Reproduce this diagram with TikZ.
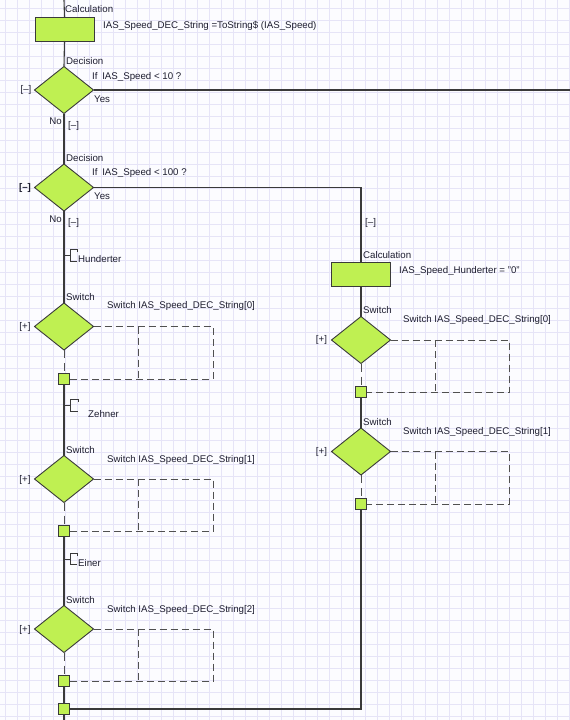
\documentclass[tikz,border=0pt]{standalone}
\usepackage{fontspec}
\setmainfont{Liberation Sans}
\usetikzlibrary{shapes.geometric}
\definecolor{lime}{HTML}{BFF052}
\definecolor{ln}{HTML}{3A3A3A}
\definecolor{dl}{HTML}{505050}
\definecolor{gridc}{HTML}{E6E4F7}
\definecolor{txt}{HTML}{1E1E30}
\definecolor{bg}{HTML}{FCFCFF}
\tikzset{
  flow/.style={draw=ln, line width=1.1pt},
  dsh/.style={draw=dl, line width=1pt, dash pattern=on 7pt off 4pt},
  calcbox/.style={rectangle, draw=ln, fill=lime, line width=0.9pt, minimum width=59pt, minimum height=24pt, inner sep=0pt, outer sep=0pt},
  decbox/.style={diamond, draw=ln, fill=lime, line width=0.9pt, minimum width=59pt, minimum height=47pt, inner sep=0pt, outer sep=0pt},
  merge/.style={rectangle, draw=ln, fill=lime, line width=0.9pt, minimum width=11pt, minimum height=11pt, inner sep=0pt, outer sep=0pt},
  lbl/.style={anchor=west, inner sep=0pt, text=txt, text height=7pt, text depth=2pt, font=\fontsize{9.7}{11}\selectfont},
  lble/.style={lbl, anchor=east},
  lblc/.style={lbl, anchor=center},
  cmt/.style={draw=ln, line width=0.9pt},
}
\begin{document}
\begin{tikzpicture}[x=1pt, y=-1pt]
\useasboundingbox (0,0) rectangle (570,720);
\fill[bg] (0,0) rectangle (570,720);
\foreach \x in {5,17,...,569} \draw[gridc, line width=1pt] (\x,0) -- (\x,720);
\foreach \k in {0,...,59} \draw[gridc, line width=1pt] (0,8.7+12*\k) -- (570,8.7+12*\k);

% coordinates
\coordinate (top) at (64,0);
\coordinate (bot) at (64,720);
\coordinate (rightend) at (570,90);
\coordinate (corner) at (361,187.5);
\coordinate (rcorner) at (361,709);

% shapes
\node[calcbox] (c1) at (64.5,29) {};
\node[decbox] (d1) at (64,90) {};
\node[decbox] (d2) at (64,187.5) {};
\node[decbox] (s1) at (64,326.5) {};
\node[merge] (m1) at (64,379) {};
\node[decbox] (s2) at (64,479) {};
\node[merge] (m2) at (64,531) {};
\node[decbox] (s3) at (64,629) {};
\node[merge] (m3) at (64,681) {};
\node[merge] (mf) at (64,709) {};
\node[calcbox] (c2) at (361,274) {};
\node[decbox] (r1) at (361,340) {};
\node[merge] (rm1) at (361,392) {};
\node[decbox] (r2) at (361,451.5) {};
\node[merge] (rm2) at (361,504) {};

% dashed box corners
\coordinate (b1tl) at (138,326.5); \coordinate (b1tr) at (213,326.5);
\coordinate (b1bl) at (138,379);   \coordinate (b1br) at (213,379);
\coordinate (b2tl) at (138,479);   \coordinate (b2tr) at (213,479);
\coordinate (b2bl) at (138,531);   \coordinate (b2br) at (213,531);
\coordinate (b3tl) at (138,629);   \coordinate (b3tr) at (213,629);
\coordinate (b3bl) at (138,681);   \coordinate (b3br) at (213,681);
\coordinate (r1tl) at (435,340);   \coordinate (r1tr) at (509,340);
\coordinate (r1bl) at (435,392);   \coordinate (r1br) at (509,392);
\coordinate (r2tl) at (435,451.5); \coordinate (r2tr) at (509,451.5);
\coordinate (r2bl) at (435,504);   \coordinate (r2br) at (509,504);

% main flow
\draw[flow] (top) -- (c1.north);
\draw[flow] (c1.south) -- (d1.north);
\draw[flow] (d1.east) -- (rightend);
\draw[flow] (d1.south) -- (d2.north);
\draw[flow] (d2.east) -- (corner) -- (c2.north);
\draw[flow] (d2.south) -- (s1.north);
\draw[flow] (m1.south) -- (s2.north);
\draw[flow] (m2.south) -- (s3.north);
\draw[flow] (m3.south) -- (mf.north);
\draw[flow] (mf.south) -- (bot);
\draw[flow] (c2.south) -- (r1.north);
\draw[flow] (rm1.south) -- (r2.north);
\draw[flow] (rm2.south) -- (rcorner) -- (mf.east);

% dashed switch parts
\draw[dsh, dash pattern=on 8pt off 5pt] (s1.south) -- (m1.north);
\draw[dsh, dash pattern=on 8pt off 5pt] (s2.south) -- (m2.north);
\draw[dsh, dash pattern=on 8pt off 5pt] (s3.south) -- (m3.north);
\draw[dsh, dash pattern=on 8pt off 5pt] (r1.south) -- (rm1.north);
\draw[dsh, dash pattern=on 8pt off 5pt] (r2.south) -- (rm2.north);
\draw[dsh] (s1.east) -- (b1tr) -- (b1br) -- (m1.east);
\draw[dsh] (b1tl) -- (b1bl);
\draw[dsh] (s2.east) -- (b2tr) -- (b2br) -- (m2.east);
\draw[dsh] (b2tl) -- (b2bl);
\draw[dsh] (s3.east) -- (b3tr) -- (b3br) -- (m3.east);
\draw[dsh] (b3tl) -- (b3bl);
\draw[dsh] (r1.east) -- (r1tr) -- (r1br) -- (rm1.east);
\draw[dsh] (r1tl) -- (r1bl);
\draw[dsh] (r2.east) -- (r2tr) -- (r2br) -- (rm2.east);
\draw[dsh] (r2tl) -- (r2bl);

% comment brackets
\draw[cmt] (64,255) -- (70,255) (77,252) -- (77,249) -- (70,249) -- (70,261) -- (77,261);
\draw[cmt] (64,405) -- (70,405) (78,402) -- (78,399) -- (70,399) -- (70,411.5) -- (78,411.5);
\draw[cmt] (64,559) -- (70,559) (77,556) -- (77,553) -- (70,553) -- (70,564) -- (77,564);

% labels
\node[lbl] (t1) at (65,10) {Calculation};
\node[lbl] (t2) at (103,25.5) {IAS\_Speed\_DEC\_String =ToString\$ (IAS\_Speed)};
\node[lbl] (t3) at (66,62) {Decision};
\node[lbl] (t4) at (92,77) {If\hspace{2pt} IAS\_Speed < 10 ?};
\node[lbl] (t5) at (94,100) {Yes};
\node[lblc] (t6) at (26,90) {[--]};
\node[lble] (t7) at (62,122) {No};
\node[lbl] (t8) at (68,126) {[--]};

\node[lbl] (t9) at (66,159) {Decision};
\node[lbl] (t10) at (92,173) {If\hspace{2pt} IAS\_Speed < 100 ?};
\node[lbl] (t11) at (94,197) {Yes};
\node[lblc] (t12) at (25,188) {\textbf{[--]}};
\node[lble] (t13) at (62,220) {No};
\node[lbl] (t14) at (68,223) {[--]};
\node[lbl] (t15) at (365,223) {[--]};
\node[lbl] (t16) at (78,260) {Hunderter};

\node[lbl] (t17) at (363,256) {Calculation};
\node[lbl] (t18) at (399,271) {IAS\_Speed\_Hunderter = "0"};
\node[lbl] (t19) at (363,311) {Switch};
\node[lbl] (t20) at (403,320) {Switch IAS\_Speed\_DEC\_String[0]};
\node[lblc] (t21) at (321.5,340) {[+]};
\node[lbl] (t22) at (363,423) {Switch};
\node[lbl] (t23) at (403,432) {Switch IAS\_Speed\_DEC\_String[1]};
\node[lblc] (t24) at (321.5,452) {[+]};

\node[lbl] (t25) at (66,298) {Switch};
\node[lbl] (t26) at (107,306) {Switch IAS\_Speed\_DEC\_String[0]};
\node[lblc] (t27) at (25,327) {[+]};
\node[lbl] (t28) at (88,415) {Zehner};
\node[lbl] (t29) at (66,451) {Switch};
\node[lbl] (t30) at (107,460) {Switch IAS\_Speed\_DEC\_String[1]};
\node[lblc] (t31) at (25,480) {[+]};
\node[lbl] (t32) at (78,563.5) {Einer};
\node[lbl] (t33) at (66,600.5) {Switch};
\node[lbl] (t34) at (107,610) {Switch IAS\_Speed\_DEC\_String[2]};
\node[lblc] (t35) at (25,630) {[+]};
\end{tikzpicture}
\end{document}
